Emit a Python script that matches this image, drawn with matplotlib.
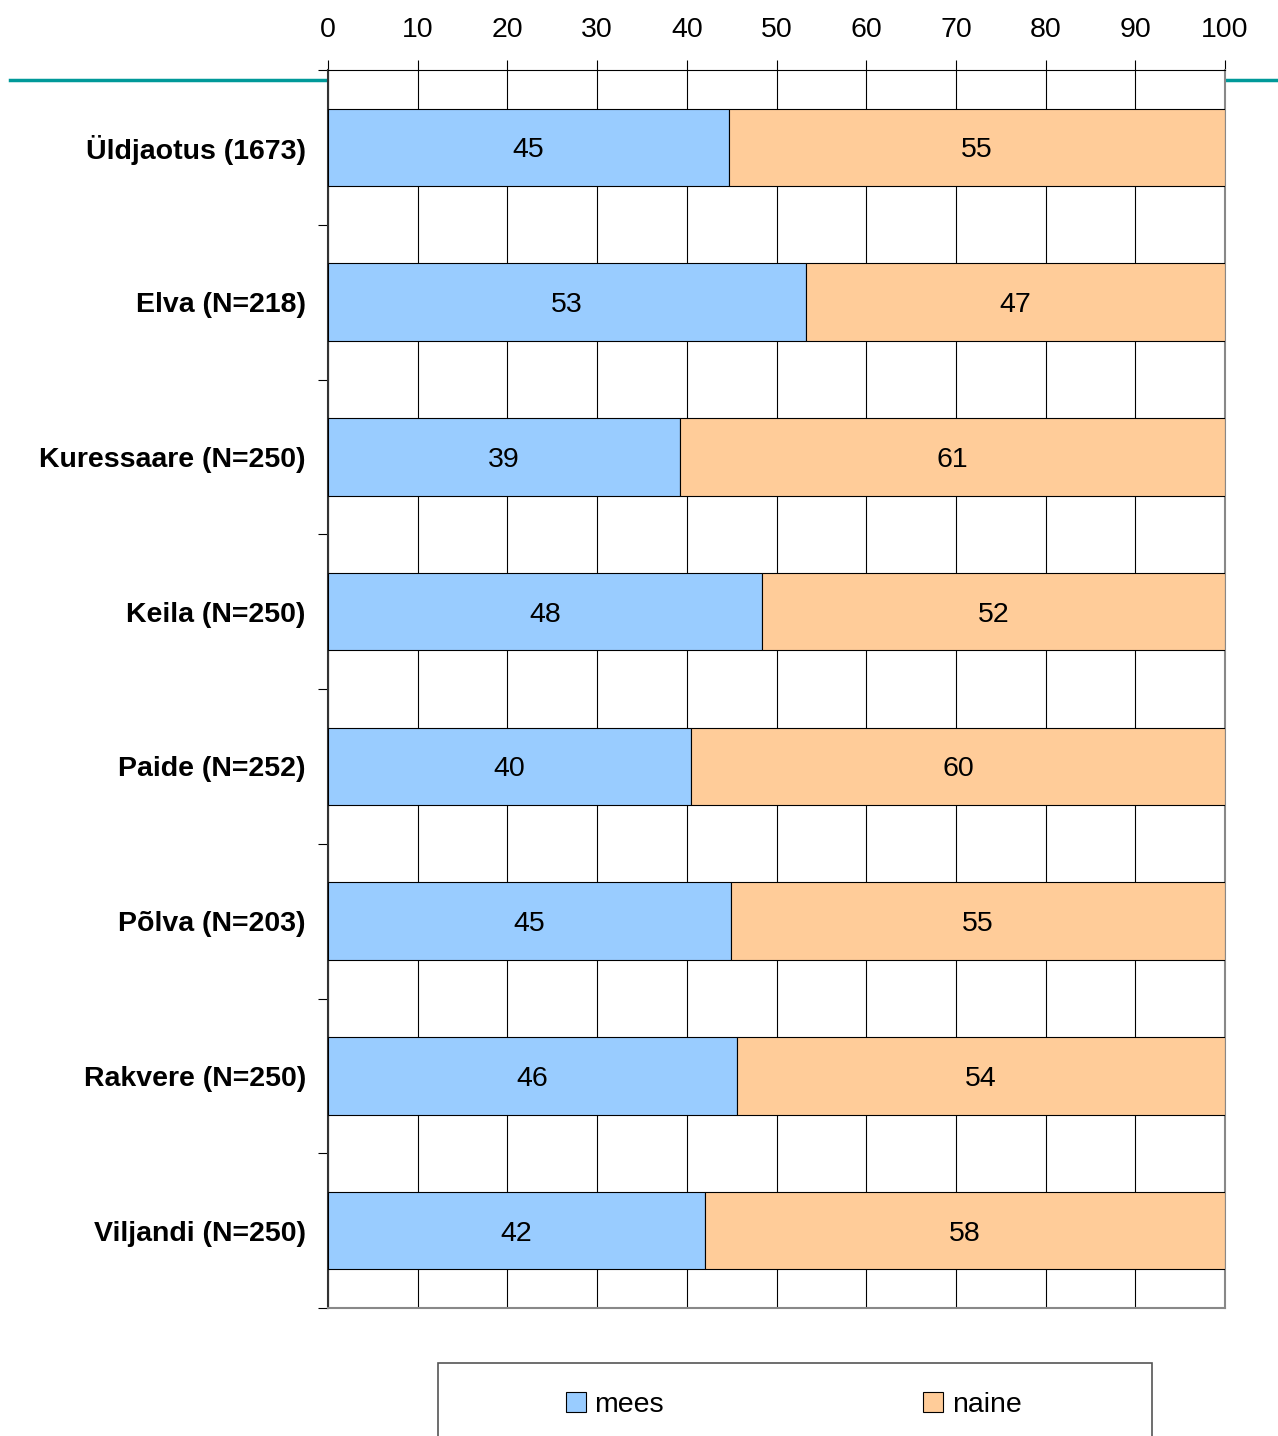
import matplotlib
matplotlib.use("Agg")
import numpy as np
from matplotlib import pyplot as plt
from matplotlib.lines import Line2D
from matplotlib.patches import Rectangle

plt.rcParams['font.family'] = ['Liberation Sans', 'DejaVu Sans']

# data
categories = ["Üldjaotus (1673)", "Elva (N=218)", "Kuressaare (N=250)", "Keila (N=250)",
              "Paide (N=252)", "Põlva (N=203)", "Rakvere (N=250)", "Viljandi (N=250)"]
mees = [44.7, 53.3, 39.2, 48.4, 40.5, 44.9, 45.6, 42.0]
naine = [55.3, 46.7, 60.8, 51.6, 59.5, 55.1, 54.4, 58.0]
mees_lbl = [45, 53, 39, 48, 40, 45, 46, 42]
naine_lbl = [55, 47, 61, 52, 60, 55, 54, 58]

c_mees = "#99ccff"
c_naine = "#ffcc99"
fs = 20.5

W, H = 1278, 1436
fig = plt.figure(figsize=(W/100, H/100), dpi=100)

# teal decorative line
fig.lines.append(Line2D([10/W, 1.0], [1-80/H, 1-80/H], transform=fig.transFigure,
                        color="#009999", lw=2.5, zorder=-1))

ax = fig.add_axes([328/W, 1-1308/H, (1225-328)/W, (1308-70)/H])
ax.set_facecolor("white")

y = np.arange(len(categories))
ax.barh(y, mees, height=0.5, color=c_mees, edgecolor="black", lw=0.8, label="mees", zorder=3)
ax.barh(y, naine, left=mees, height=0.5, color=c_naine, edgecolor="black", lw=0.8, label="naine", zorder=3)

for i in range(len(categories)):
    ax.text(mees[i]/2, y[i], str(mees_lbl[i]), ha="center", va="center_baseline", fontsize=fs, zorder=4)
    ax.text(mees[i] + naine[i]/2, y[i], str(naine_lbl[i]), ha="center", va="center_baseline", fontsize=fs, zorder=4)

ax.set_xlim(0, 100)
ax.set_ylim(len(categories)-0.5, -0.5)
ax.set_xticks(np.arange(0, 101, 10))
ax.xaxis.tick_top()
ax.tick_params(axis="x", length=7, width=0.8, pad=12.5, labelsize=fs, direction="out")
ax.grid(axis="x", color="black", lw=0.8, zorder=1)

ax.set_yticks(y)
ax.set_yticklabels(categories, fontsize=fs, fontweight="bold")
ax.set_yticks(np.arange(-0.5, len(categories), 1), minor=True)
ax.tick_params(axis="y", which="major", length=0, pad=16)
ax.tick_params(axis="y", which="minor", length=7, width=0.8)

ax.spines["top"].set_color("black")
ax.spines["top"].set_linewidth(0.8)
ax.spines["left"].set_color("#333333")
ax.spines["left"].set_linewidth(1.5)
ax.spines["right"].set_color("#888888")
ax.spines["right"].set_linewidth(1.5)
ax.spines["bottom"].set_color("#888888")
ax.spines["bottom"].set_linewidth(1.5)

# legend box (runs off the bottom edge)
fig.patches.append(Rectangle((438/W, -0.05), (1152-438)/W, 0.05 + 1 - 1363/H,
                             transform=fig.transFigure, fill=False,
                             edgecolor="#555555", lw=1.2))
fig.legend(loc="center left", bbox_to_anchor=(566/W, 1-1405/H), ncol=2, frameon=False,
           fontsize=fs, handlelength=0.7, handleheight=0.7, handletextpad=0.3,
           columnspacing=9.1, borderpad=0, borderaxespad=0)

fig.savefig("out.png", dpi=100)
